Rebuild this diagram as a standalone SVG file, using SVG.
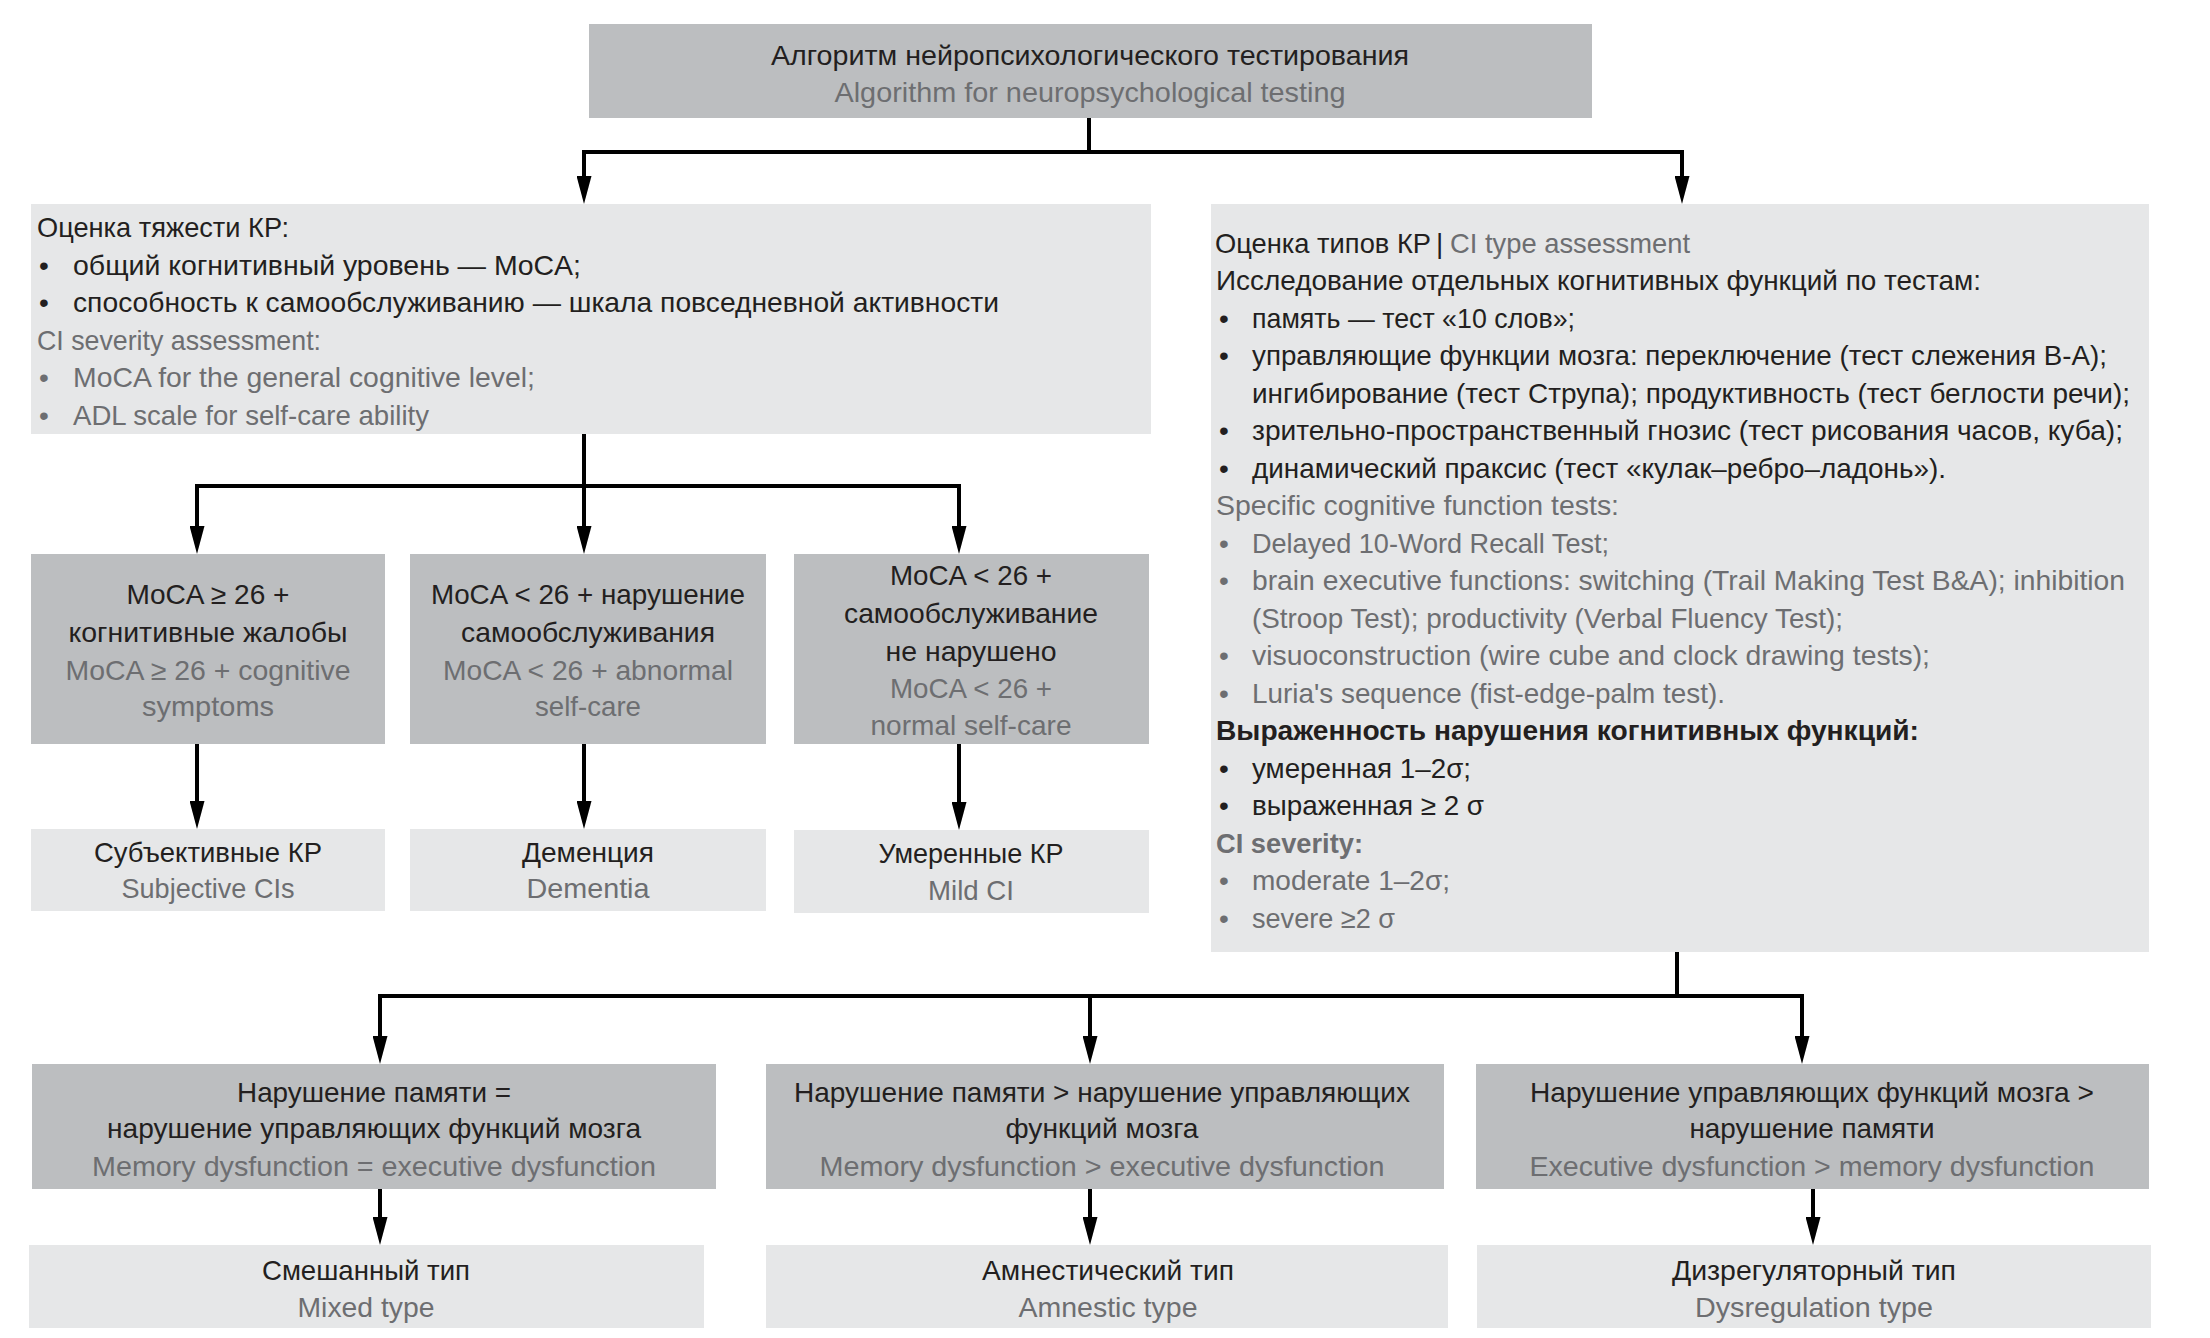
<svg xmlns="http://www.w3.org/2000/svg" width="2210" height="1338" viewBox="0 0 2210 1338">
<defs>
<style>
text{font-family:"Liberation Sans",Arial,"Noto Sans",sans-serif;font-size:28px;fill:#231f20}
.g{fill:#6d6e71}
.b{font-weight:bold}
.c{text-anchor:middle}
.dk{fill:#bcbec0}
.lt{fill:#e6e7e8}
.conn{stroke:#000;stroke-width:4;fill:none;stroke-linejoin:miter}
</style>
<marker id="arr" markerUnits="userSpaceOnUse" markerWidth="28" markerHeight="15" refX="20" refY="7.5" orient="auto">
<path d="M0,0 L28,7.5 L0,15 z" fill="#000"/>
</marker>
</defs>
<rect width="2210" height="1338" fill="#fff"/>

<g id="connectors">
<path class="conn" d="M1089,118 V152"/>
<path class="conn" d="M1089,152 H584 V196" marker-end="url(#arr)"/>
<path class="conn" d="M1089,152 H1682 V196" marker-end="url(#arr)"/>
<path class="conn" d="M584,434 V486"/>
<path class="conn" d="M584,486 H197 V546" marker-end="url(#arr)"/>
<path class="conn" d="M584,486 V546" marker-end="url(#arr)"/>
<path class="conn" d="M584,486 H959 V546" marker-end="url(#arr)"/>
<path class="conn" d="M197,744 V821" marker-end="url(#arr)"/>
<path class="conn" d="M584,744 V821" marker-end="url(#arr)"/>
<path class="conn" d="M959,744 V822" marker-end="url(#arr)"/>
<path class="conn" d="M1677,952 V996"/>
<path class="conn" d="M1677,996 H380 V1056" marker-end="url(#arr)"/>
<path class="conn" d="M1090,996 V1056" marker-end="url(#arr)"/>
<path class="conn" d="M1677,996 H1802 V1056" marker-end="url(#arr)"/>
<path class="conn" d="M380,1189 V1237" marker-end="url(#arr)"/>
<path class="conn" d="M1090,1189 V1237" marker-end="url(#arr)"/>
<path class="conn" d="M1813,1189 V1237" marker-end="url(#arr)"/>
</g>

<g id="title">
<rect class="dk" x="589" y="24" width="1003" height="94"/>
<text class="c" x="1090" y="65" textLength="638" lengthAdjust="spacingAndGlyphs">Алгоритм нейропсихологического тестирования</text>
<text class="c g" x="1090" y="102" textLength="511" lengthAdjust="spacingAndGlyphs">Algorithm for neuropsychological testing</text>
</g>

<g id="severity">
<rect class="lt" x="31" y="204" width="1120" height="230"/>
<text x="37" y="237" textLength="252" lengthAdjust="spacingAndGlyphs">Оценка тяжести КР:</text>
<text x="39" y="274.5">•</text>
<text x="73" y="274.5" textLength="508" lengthAdjust="spacingAndGlyphs">общий когнитивный уровень — MoCA;</text>
<text x="39" y="312">•</text>
<text x="73" y="312" textLength="926" lengthAdjust="spacingAndGlyphs">способность к самообслуживанию — шкала повседневной активности</text>
<text class="g" x="37" y="349.5" textLength="284" lengthAdjust="spacingAndGlyphs">CI severity assessment:</text>
<text class="g" x="39" y="387">•</text>
<text class="g" x="73" y="387" textLength="462" lengthAdjust="spacingAndGlyphs">MoCA for the general cognitive level;</text>
<text class="g" x="39" y="424.5">•</text>
<text class="g" x="73" y="424.5" textLength="356" lengthAdjust="spacingAndGlyphs">ADL scale for self-care ability</text>
</g>

<g id="types">
<rect class="lt" x="1211" y="204" width="938" height="748"/>
<text x="1215" y="252.5" textLength="216" lengthAdjust="spacingAndGlyphs">Оценка типов КР</text>
<text x="1436" y="252.5">|</text>
<text class="g" x="1450" y="252.5" textLength="240" lengthAdjust="spacingAndGlyphs">CI type assessment</text>
<text x="1216" y="290" textLength="765" lengthAdjust="spacingAndGlyphs">Исследование отдельных когнитивных функций по тестам:</text>
<text x="1219" y="327.5">•</text>
<text x="1252" y="327.5" textLength="323" lengthAdjust="spacingAndGlyphs">память — тест «10 слов»;</text>
<text x="1219" y="365">•</text>
<text x="1252" y="365" textLength="855" lengthAdjust="spacingAndGlyphs">управляющие функции мозга: переключение (тест слежения В-А);</text>
<text x="1252" y="402.6" textLength="878" lengthAdjust="spacingAndGlyphs">ингибирование (тест Струпа); продуктивность (тест беглости речи);</text>
<text x="1219" y="440">•</text>
<text x="1252" y="440" textLength="871" lengthAdjust="spacingAndGlyphs">зрительно-пространственный гнозис (тест рисования часов, куба);</text>
<text x="1219" y="477.6">•</text>
<text x="1252" y="477.6" textLength="694" lengthAdjust="spacingAndGlyphs">динамический праксис (тест «кулак–ребро–ладонь»).</text>
<text class="g" x="1216" y="515.1" textLength="403" lengthAdjust="spacingAndGlyphs">Specific cognitive function tests:</text>
<text class="g" x="1219" y="552.6">•</text>
<text class="g" x="1252" y="552.6" textLength="357" lengthAdjust="spacingAndGlyphs">Delayed 10-Word Recall Test;</text>
<text class="g" x="1219" y="590.2">•</text>
<text class="g" x="1252" y="590.2" textLength="873" lengthAdjust="spacingAndGlyphs">brain executive functions: switching (Trail Making Test B&amp;A); inhibition</text>
<text class="g" x="1252" y="627.7" textLength="591" lengthAdjust="spacingAndGlyphs">(Stroop Test); productivity (Verbal Fluency Test);</text>
<text class="g" x="1219" y="665.2">•</text>
<text class="g" x="1252" y="665.2" textLength="678" lengthAdjust="spacingAndGlyphs">visuoconstruction (wire cube and clock drawing tests);</text>
<text class="g" x="1219" y="702.7">•</text>
<text class="g" x="1252" y="702.7" textLength="473" lengthAdjust="spacingAndGlyphs">Luria's sequence (fist-edge-palm test).</text>
<text class="b" x="1216" y="740.2" textLength="703" lengthAdjust="spacingAndGlyphs">Выраженность нарушения когнитивных функций:</text>
<text x="1219" y="777.7">•</text>
<text x="1252" y="777.7" textLength="219" lengthAdjust="spacingAndGlyphs">умеренная 1–2σ;</text>
<text x="1219" y="815.3">•</text>
<text x="1252" y="815.3" textLength="232" lengthAdjust="spacingAndGlyphs">выраженная ≥ 2 σ</text>
<text class="b g" x="1216" y="852.8" textLength="147" lengthAdjust="spacingAndGlyphs">CI severity:</text>
<text class="g" x="1219" y="890.3">•</text>
<text class="g" x="1252" y="890.3" textLength="198" lengthAdjust="spacingAndGlyphs">moderate 1–2σ;</text>
<text class="g" x="1219" y="927.8">•</text>
<text class="g" x="1252" y="927.8" textLength="143" lengthAdjust="spacingAndGlyphs">severe ≥2 σ</text>
</g>

<g id="moca-high">
<rect class="dk" x="31" y="554" width="354" height="190"/>
<text class="c" x="208" y="604" textLength="163" lengthAdjust="spacingAndGlyphs">MoCA ≥ 26 +</text>
<text class="c" x="208" y="642" textLength="279" lengthAdjust="spacingAndGlyphs">когнитивные жалобы</text>
<text class="c g" x="208" y="680" textLength="285" lengthAdjust="spacingAndGlyphs">MoCA ≥ 26 + cognitive</text>
<text class="c g" x="208" y="716" textLength="132" lengthAdjust="spacingAndGlyphs">symptoms</text>
</g>

<g id="moca-low-abnormal">
<rect class="dk" x="410" y="554" width="356" height="190"/>
<text class="c" x="588" y="604" textLength="314" lengthAdjust="spacingAndGlyphs">MoCA &lt; 26 + нарушение</text>
<text class="c" x="588" y="642" textLength="254" lengthAdjust="spacingAndGlyphs">самообслуживания</text>
<text class="c g" x="588" y="680" textLength="290" lengthAdjust="spacingAndGlyphs">MoCA &lt; 26 + abnormal</text>
<text class="c g" x="588" y="716" textLength="106" lengthAdjust="spacingAndGlyphs">self-care</text>
</g>

<g id="moca-low-normal">
<rect class="dk" x="794" y="554" width="355" height="190"/>
<text class="c" x="971" y="585" textLength="162" lengthAdjust="spacingAndGlyphs">MoCA &lt; 26 +</text>
<text class="c" x="971" y="623" textLength="254" lengthAdjust="spacingAndGlyphs">самообслуживание</text>
<text class="c" x="971" y="661" textLength="171" lengthAdjust="spacingAndGlyphs">не нарушено</text>
<text class="c g" x="971" y="698" textLength="162" lengthAdjust="spacingAndGlyphs">MoCA &lt; 26 +</text>
<text class="c g" x="971" y="735" textLength="201" lengthAdjust="spacingAndGlyphs">normal self-care</text>
</g>

<g id="subjective">
<rect class="lt" x="31" y="829" width="354" height="82"/>
<text class="c" x="208" y="862" textLength="228" lengthAdjust="spacingAndGlyphs">Субъективные КР</text>
<text class="c g" x="208" y="898" textLength="173" lengthAdjust="spacingAndGlyphs">Subjective CIs</text>
</g>

<g id="dementia">
<rect class="lt" x="410" y="829" width="356" height="82"/>
<text class="c" x="588" y="862" textLength="132" lengthAdjust="spacingAndGlyphs">Деменция</text>
<text class="c g" x="588" y="898" textLength="123" lengthAdjust="spacingAndGlyphs">Dementia</text>
</g>

<g id="mild">
<rect class="lt" x="794" y="830" width="355" height="83"/>
<text class="c" x="971" y="863" textLength="185" lengthAdjust="spacingAndGlyphs">Умеренные КР</text>
<text class="c g" x="971" y="900" textLength="86" lengthAdjust="spacingAndGlyphs">Mild CI</text>
</g>

<g id="mem-eq-exec">
<rect class="dk" x="32" y="1064" width="684" height="125"/>
<text class="c" x="374" y="1102" textLength="274" lengthAdjust="spacingAndGlyphs">Нарушение памяти =</text>
<text class="c" x="374" y="1138" textLength="534" lengthAdjust="spacingAndGlyphs">нарушение управляющих функций мозга</text>
<text class="c g" x="374" y="1176" textLength="564" lengthAdjust="spacingAndGlyphs">Memory dysfunction = executive dysfunction</text>
</g>

<g id="mem-gt-exec">
<rect class="dk" x="766" y="1064" width="678" height="125"/>
<text class="c" x="1102" y="1102" textLength="616" lengthAdjust="spacingAndGlyphs">Нарушение памяти &gt; нарушение управляющих</text>
<text class="c" x="1102" y="1138" textLength="193" lengthAdjust="spacingAndGlyphs">функций мозга</text>
<text class="c g" x="1102" y="1176" textLength="565" lengthAdjust="spacingAndGlyphs">Memory dysfunction &gt; executive dysfunction</text>
</g>

<g id="exec-gt-mem">
<rect class="dk" x="1476" y="1064" width="673" height="125"/>
<text class="c" x="1812" y="1102" textLength="564" lengthAdjust="spacingAndGlyphs">Нарушение управляющих функций мозга &gt;</text>
<text class="c" x="1812" y="1138" textLength="245" lengthAdjust="spacingAndGlyphs">нарушение памяти</text>
<text class="c g" x="1812" y="1176" textLength="565" lengthAdjust="spacingAndGlyphs">Executive dysfunction &gt; memory dysfunction</text>
</g>

<g id="mixed">
<rect class="lt" x="29" y="1245" width="675" height="83"/>
<text class="c" x="366" y="1280" textLength="208" lengthAdjust="spacingAndGlyphs">Смешанный тип</text>
<text class="c g" x="366" y="1317" textLength="137" lengthAdjust="spacingAndGlyphs">Mixed type</text>
</g>

<g id="amnestic">
<rect class="lt" x="766" y="1245" width="682" height="83"/>
<text class="c" x="1108" y="1280" textLength="252" lengthAdjust="spacingAndGlyphs">Амнестический тип</text>
<text class="c g" x="1108" y="1317" textLength="179" lengthAdjust="spacingAndGlyphs">Amnestic type</text>
</g>

<g id="dysregulation">
<rect class="lt" x="1477" y="1245" width="674" height="83"/>
<text class="c" x="1814" y="1280" textLength="284" lengthAdjust="spacingAndGlyphs">Дизрегуляторный тип</text>
<text class="c g" x="1814" y="1317" textLength="238" lengthAdjust="spacingAndGlyphs">Dysregulation type</text>
</g>
</svg>
